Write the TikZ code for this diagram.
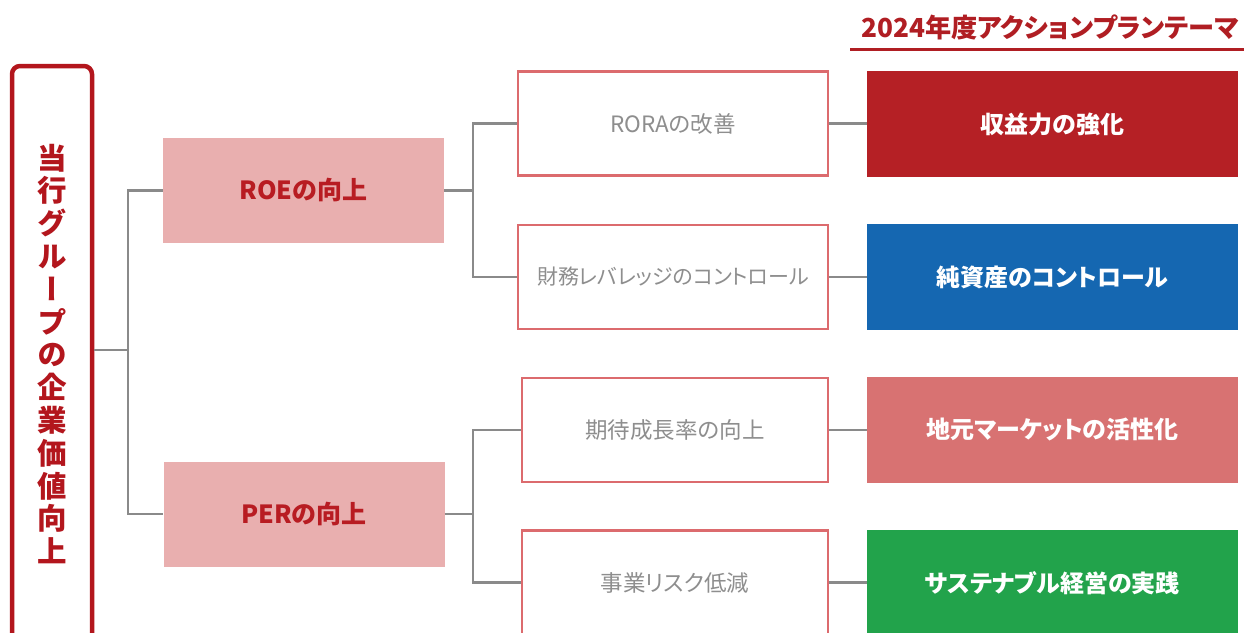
\documentclass[tikz,border=0pt]{standalone}
\usepackage{fontspec}
\setmainfont{Noto Sans CJK JP}[CharacterWidth=AlternateProportional]
\newfontfamily\vertfont{Noto Sans CJK JP}[RawFeature=+vert]
\definecolor{deepred}{HTML}{B3161D}
\definecolor{headred}{HTML}{B01E23}
\definecolor{pinkfill}{HTML}{E9AFAF}
\definecolor{pinktext}{HTML}{B81C22}
\definecolor{midline}{HTML}{DC6B6E}
\definecolor{midtext}{HTML}{8E8E8E}
\definecolor{conn}{HTML}{8A8A8A}
\definecolor{rred}{HTML}{B52025}
\definecolor{rblue}{HTML}{1567B1}
\definecolor{rsalmon}{HTML}{D87272}
\definecolor{rgreen}{HTML}{22A34B}
\tikzset{
  corpbox/.style={draw=deepred, line width=4.5pt, rounded corners=8pt, fill=white},
  goalbox/.style={fill=pinkfill, draw=none, minimum width=281pt, minimum height=105pt,
    text=pinktext, font=\bfseries\fontsize{25}{29}\selectfont},
  midbox/.style={draw=midline, line width=2.4pt, fill=white, minimum height=104pt,
    text=midtext, font=\fontsize{22.5}{26}\selectfont},
  themebox/.style={draw=none, minimum width=371pt, minimum height=106pt,
    text=white, font=\bfseries\fontsize{24}{28}\selectfont},
  link/.style={draw=conn, line width=2.4pt},
}
\begin{document}
\begin{tikzpicture}[x=1pt,y=-1pt]
\useasboundingbox (0,0) rectangle (1244,632);
% header
\node[text=headred, font=\bfseries\fontsize{26.2}{30}\selectfont, anchor=center] (head) at (1050,27) {2024年度アクションプランテーマ};
\coordinate (hl) at (850,49);
\coordinate (hr) at (1244,49);
\draw[draw=headred, line width=3pt] (hl) -- (hr);
% left box
\node[corpbox, minimum width=80pt, minimum height=580pt] (corp) at (52,356) {};
\node[text=deepred, font=\vertfont\bfseries\fontsize{29.5}{32.8}\selectfont, align=center, inner sep=0pt] (corptext) at (52,354)
  {当\\行\\グ\\ル\\ー\\プ\\の\\企\\業\\価\\値\\向\\上};
% goal boxes
\node[goalbox] (roe) at (303.5,190.5) {ROEの向上};
\node[goalbox] (per) at (304,514) {PERの向上};
% middle boxes
\node[midbox, minimum width=310pt] (rora) at (673,123.5) {RORAの改善};
\node[midbox, minimum width=310pt, font=\fontsize{21}{25}\selectfont] (lev) at (673,277) {財務レバレッジのコントロール};
\node[midbox, minimum width=306pt] (growth) at (675,430) {期待成長率の向上};
\node[midbox, minimum width=306pt] (risk) at (675,582.5) {事業リスク低減};
% theme boxes
\node[themebox, fill=rred] (t1) at (1052.5,124) {収益力の強化};
\node[themebox, fill=rblue] (t2) at (1052.5,277) {純資産のコントロール};
\node[themebox, fill=rsalmon] (t3) at (1052.5,429.5) {地元マーケットの活性化};
\node[themebox, fill=rgreen] (t4) at (1052.5,583) {サステナブル経営の実践};
% junctions
\coordinate (j1) at (128,350);
\coordinate (j2) at (473,190.5);
\coordinate (j3) at (473,514);
% connectors
\draw[link] (corp.east |- j1) -- (j1);
\draw[link] (roe.west) -| (j1) |- (per.west);
\draw[link] (roe.east) -- (j2);
\draw[link] (rora.west) -| (j2) |- (lev.west);
\draw[link] (per.east) -- (j3);
\draw[link] (growth.west) -| (j3) |- (risk.west);
\draw[link] (rora.east) -- (rora.east -| t1.west);
\draw[link] (lev.east) -- (lev.east -| t2.west);
\draw[link] (growth.east) -- (growth.east -| t3.west);
\draw[link] (risk.east) -- (risk.east -| t4.west);
\end{tikzpicture}
\end{document}
